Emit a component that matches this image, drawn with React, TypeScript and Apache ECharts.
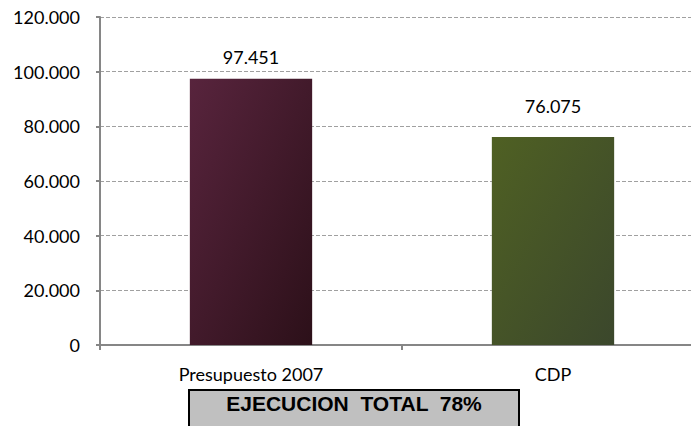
import React, { useEffect, useRef } from "react";
import * as echarts from "echarts";

const categories = ["Presupuesto 2007", "CDP"];
const values = [97451, 76075];
const valueLabels = ["97.451", "76.075"];
const yTickLabels = ["0", "20.000", "40.000", "60.000", "80.000", "100.000", "120.000"];
const summaryText = "EJECUCION  TOTAL  78%";

const barColors = [
  ["#58243d", "#2c1019"],
  ["#4f6023", "#3b472c"],
];
const labelDistances = [13, 22];

export default function App() {
  const ref = useRef<HTMLDivElement>(null);
  useEffect(() => {
    if (!ref.current) return;
    const chart = echarts.init(ref.current, undefined, { renderer: "svg" });
    const option: any = {
      animation: false,
      backgroundColor: "#ffffff",
      grid: { left: 100, top: 17, right: -13, bottom: 81, containLabel: false, outerBoundsMode: "none" },
      xAxis: {
        type: "category",
        data: categories,
        axisLine: { show: true, lineStyle: { color: "#868686", width: 2 } },
        axisTick: { show: true, length: 5, alignWithLabel: false, lineStyle: { color: "#868686", width: 2 } },
        axisLabel: { color: "#000", fontFamily: "Lato", fontSize: 18, margin: 20 },
        splitLine: { show: false },
      },
      yAxis: {
        type: "value",
        min: 0,
        max: 120000,
        interval: 20000,
        axisLine: { show: true, lineStyle: { color: "#868686", width: 2 } },
        axisTick: { show: true, length: 4, lineStyle: { color: "#868686", width: 2 } },
        axisLabel: {
          color: "#000",
          fontFamily: "Lato",
          fontSize: 18,
          margin: 20,
          formatter: (v: number) => yTickLabels[Math.round(v / 20000)] ?? String(v),
        },
        splitLine: { show: true, lineStyle: { color: "#a0a0a0", type: [4, 2], width: 1 } },
      },
      series: [
        {
          type: "bar",
          barWidth: "40.5%",
          data: values.map((v, i) => ({
            value: v,
            itemStyle: {
              color: new echarts.graphic.LinearGradient(0, 0, 1, 1, [
                { offset: 0, color: barColors[i][0] },
                { offset: 1, color: barColors[i][1] },
              ]),
            },
            label: { distance: labelDistances[i] },
          })),
          label: {
            show: true,
            position: "top",
            color: "#000",
            fontFamily: "Lato",
            fontSize: 18,
            formatter: (p: any) => valueLabels[p.dataIndex],
          },
        },
      ],
      graphic: [
        {
          type: "rect",
          shape: { x: 189, y: 390, width: 330, height: 50 },
          style: { fill: "#c0c0c0", stroke: "#000", lineWidth: 2 },
          z: 10,
        },
        {
          type: "text",
          x: 354,
          y: 403,
          style: {
            text: summaryText,
            fill: "#000",
            font: "bold 21px 'Liberation Sans', Arial, sans-serif",
            align: "center",
            verticalAlign: "middle",
          },
          z: 11,
        },
      ],
    };
    chart.setOption(option);
    return () => chart.dispose();
  }, []);
  return (
    <div
      ref={ref}
      style={{ position: "fixed", left: 0, top: 0, width: 691, height: 426, background: "#fff" }}
    />
  );
}
